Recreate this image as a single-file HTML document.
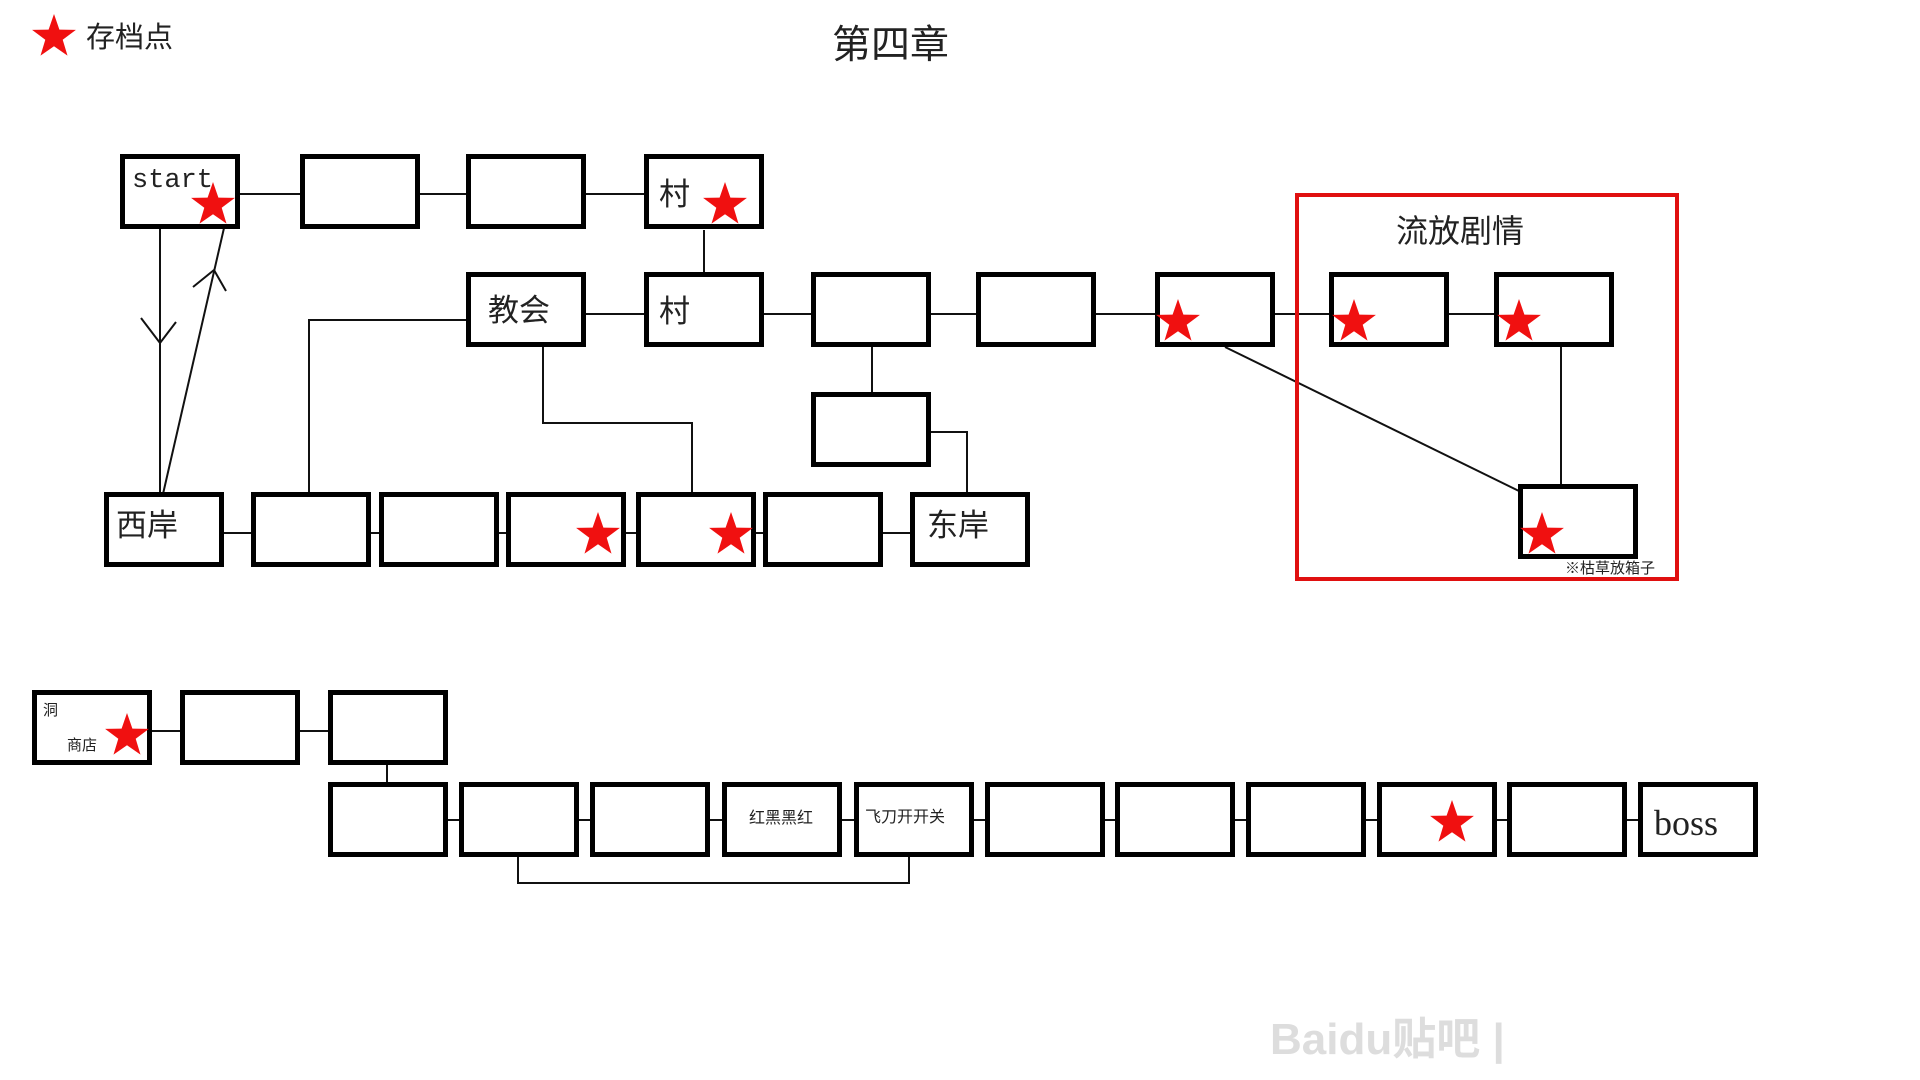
<!DOCTYPE html>
<html><head><meta charset="utf-8"><style>
body{margin:0;width:1920px;height:1080px;background:#fff;position:relative;overflow:hidden;font-family:"Liberation Sans","Noto Sans CJK SC",sans-serif;}
.b{position:absolute;width:110px;height:65px;border:5px solid #000;background:#fff;box-sizing:content-box;}
.t{position:absolute;white-space:nowrap;color:#222;line-height:1;}
svg{position:absolute;left:0;top:0;}
</style></head><body>
<svg width="1920" height="1080" style="z-index:0">
<g stroke="#111" stroke-width="2" fill="none">
<line x1="235" y1="194" x2="305" y2="194"/><line x1="420" y1="194" x2="470" y2="194"/><line x1="585" y1="194" x2="648" y2="194"/>
<line x1="704" y1="230" x2="704" y2="274"/>
<line x1="580" y1="314" x2="648" y2="314"/><line x1="760" y1="314" x2="815" y2="314"/><line x1="925" y1="314" x2="980" y2="314"/>
<line x1="1090" y1="314" x2="1160" y2="314"/><line x1="1270" y1="314" x2="1333" y2="314"/><line x1="1445" y1="314" x2="1500" y2="314"/>
<polyline points="470,320 309,320 309,494"/>
<polyline points="543,346 543,423 692,423 692,494"/>
<line x1="872" y1="346" x2="872" y2="394"/>
<polyline points="929,432 967,432 967,494"/>
<line x1="1225" y1="347" x2="1521" y2="492"/>
<line x1="1561" y1="346" x2="1561" y2="487"/>
<line x1="160" y1="228" x2="160" y2="494"/>
<polyline points="141,318 160,343 176,322"/>
<line x1="163" y1="494" x2="224" y2="228"/>
<polyline points="193,287 214,270 226,291"/>
<line x1="220" y1="533" x2="255" y2="533"/><line x1="370" y1="533" x2="383" y2="533"/><line x1="498" y1="533" x2="510" y2="533"/>
<line x1="625" y1="533" x2="640" y2="533"/><line x1="752" y1="533" x2="767" y2="533"/><line x1="880" y1="533" x2="914" y2="533"/>
<line x1="150" y1="731" x2="184" y2="731"/><line x1="298" y1="731" x2="332" y2="731"/>
<line x1="387" y1="765" x2="387" y2="785"/>
<line x1="445" y1="820" x2="463" y2="820"/><line x1="575" y1="820" x2="594" y2="820"/><line x1="708" y1="820" x2="727" y2="820"/>
<line x1="840" y1="820" x2="858" y2="820"/><line x1="970" y1="820" x2="989" y2="820"/><line x1="1100" y1="820" x2="1119" y2="820"/>
<line x1="1230" y1="820" x2="1250" y2="820"/><line x1="1360" y1="820" x2="1381" y2="820"/><line x1="1492" y1="820" x2="1511" y2="820"/>
<line x1="1622" y1="820" x2="1642" y2="820"/>
<polyline points="518,857 518,883 909,883 909,857"/>
</g>
<rect x="1297" y="195" width="380" height="384" fill="none" stroke="#e01010" stroke-width="4"/>
</svg>

<div class="b" style="left:120px;top:154px"></div>
<div class="b" style="left:300px;top:154px"></div>
<div class="b" style="left:466px;top:154px"></div>
<div class="b" style="left:644px;top:154px"></div>
<div class="b" style="left:466px;top:272px"></div>
<div class="b" style="left:644px;top:272px"></div>
<div class="b" style="left:811px;top:272px"></div>
<div class="b" style="left:976px;top:272px"></div>
<div class="b" style="left:1155px;top:272px"></div>
<div class="b" style="left:1329px;top:272px"></div>
<div class="b" style="left:1494px;top:272px"></div>
<div class="b" style="left:811px;top:392px"></div>
<div class="b" style="left:104px;top:492px"></div>
<div class="b" style="left:251px;top:492px"></div>
<div class="b" style="left:379px;top:492px"></div>
<div class="b" style="left:506px;top:492px"></div>
<div class="b" style="left:636px;top:492px"></div>
<div class="b" style="left:763px;top:492px"></div>
<div class="b" style="left:910px;top:492px"></div>
<div class="b" style="left:1518px;top:484px"></div>
<div class="b" style="left:32px;top:690px"></div>
<div class="b" style="left:180px;top:690px"></div>
<div class="b" style="left:328px;top:690px"></div>
<div class="b" style="left:328px;top:782px"></div>
<div class="b" style="left:459px;top:782px"></div>
<div class="b" style="left:590px;top:782px"></div>
<div class="b" style="left:722px;top:782px"></div>
<div class="b" style="left:854px;top:782px"></div>
<div class="b" style="left:985px;top:782px"></div>
<div class="b" style="left:1115px;top:782px"></div>
<div class="b" style="left:1246px;top:782px"></div>
<div class="b" style="left:1377px;top:782px"></div>
<div class="b" style="left:1507px;top:782px"></div>
<div class="b" style="left:1638px;top:782px"></div>

<svg width="1920" height="1080" style="z-index:2">
<defs><polygon id="s" points="0,-23 5.4,-7.4 21.9,-7.1 8.7,2.8 13.5,18.6 0,9.2 -13.5,18.6 -8.7,2.8 -21.9,-7.1 -5.4,-7.4" fill="#f01010"/></defs>
<use href="#s" x="54" y="37"/>
<use href="#s" x="213" y="205"/><use href="#s" x="725" y="205"/>
<use href="#s" x="1178" y="322"/><use href="#s" x="1354" y="322"/><use href="#s" x="1519" y="322"/>
<use href="#s" x="598" y="535"/><use href="#s" x="731" y="535"/><use href="#s" x="1542" y="535"/>
<use href="#s" x="127" y="736"/><use href="#s" x="1452" y="823"/>
</svg>

<div style="z-index:3;position:relative">
<div class="t" style="left:86px;top:24px;font-size:29px">存档点</div>
<div class="t" style="left:832px;top:26px;font-size:39px">第四章</div>
<div class="t" style="left:132px;top:168px;font-size:27px;font-family:'Liberation Mono',monospace">start</div>
<div class="t" style="left:659px;top:179px;font-size:31px">村</div>
<div class="t" style="left:488px;top:295px;font-size:31px">教会</div>
<div class="t" style="left:659px;top:296px;font-size:31px">村</div>
<div class="t" style="left:116px;top:510px;font-size:31px">西岸</div>
<div class="t" style="left:927px;top:510px;font-size:31px">东岸</div>
<div class="t" style="left:1396px;top:215px;font-size:32px">流放剧情</div>
<div class="t" style="left:1565px;top:561px;font-size:15px">※枯草放箱子</div>
<div class="t" style="left:43px;top:703px;font-size:15px">洞</div>
<div class="t" style="left:67px;top:738px;font-size:15px">商店</div>
<div class="t" style="left:749px;top:811px;font-size:16px">红黑黑红</div>
<div class="t" style="left:865px;top:810px;font-size:16px">飞刀开开关</div>
<div class="t" style="left:1654px;top:805px;font-size:36px;font-family:'Liberation Serif',serif">boss</div>
<div class="t" style="left:1270px;top:1018px;font-size:44px;font-weight:bold;color:#ddd">Baidu贴吧 |</div>
</div>
</body></html>
